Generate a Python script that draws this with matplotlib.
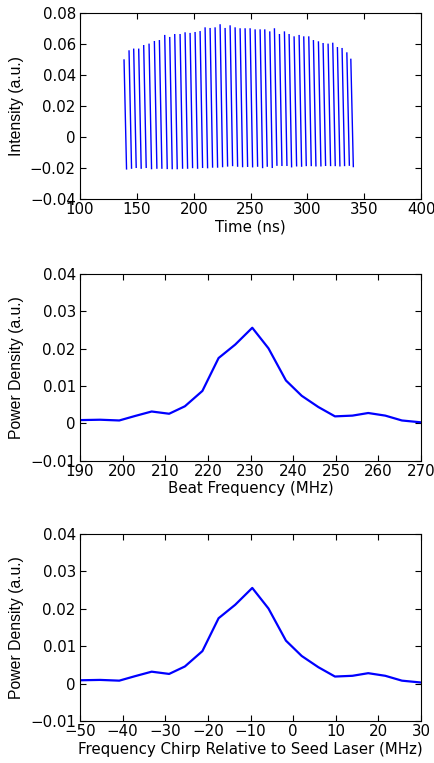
import numpy as np
import matplotlib
matplotlib.use("Agg")
import matplotlib.pyplot as plt
from matplotlib.ticker import FuncFormatter

plt.rcParams['font.family'] = ['DejaVu Sans']
plt.rcParams['font.size'] = 10.8

# Intensity trace: one stroke per beat cycle (peak value, trough value)
peak_t = [138.7, 143.1, 147.2, 151.6, 156.0, 160.7, 165.4, 169.8, 174.5, 178.9,
          183.3, 188.0, 192.4, 196.8, 201.2, 205.6, 210.0, 214.4, 218.8, 223.2,
          227.6, 232.0, 236.4, 240.8, 245.2, 249.6, 254.0, 258.4, 262.5, 266.9,
          271.0, 275.4, 279.8, 283.9, 288.3, 292.7, 296.8, 301.2, 305.3, 309.7,
          313.8, 318.2, 322.3, 326.4, 330.5, 334.7, 338.2]
peak_v = [0.0497, 0.0555, 0.0566, 0.0566, 0.0589, 0.0598, 0.0615, 0.0621, 0.0654, 0.0641,
          0.0660, 0.0660, 0.0671, 0.0667, 0.0673, 0.0679, 0.0703, 0.0699, 0.0703, 0.0723,
          0.0699, 0.0716, 0.0703, 0.0697, 0.0697, 0.0697, 0.0690, 0.0690, 0.0690, 0.0677,
          0.0697, 0.0660, 0.0677, 0.0660, 0.0645, 0.0654, 0.0645, 0.0645, 0.0621, 0.0613,
          0.0602, 0.0598, 0.0604, 0.0576, 0.0570, 0.0542, 0.0501]
trough_v = [-0.0205, -0.0200, -0.0195, -0.0200, -0.0195, -0.0203, -0.0200, -0.0200, -0.0202, -0.0203,
            -0.0203, -0.0200, -0.0200, -0.0196, -0.0200, -0.0195, -0.0197, -0.0193, -0.0193, -0.0190,
            -0.0186, -0.0183, -0.0187, -0.0190, -0.0188, -0.0191, -0.0187, -0.0196, -0.0187, -0.0195,
            -0.0181, -0.0182, -0.0182, -0.0191, -0.0185, -0.0187, -0.0183, -0.0183, -0.0185, -0.0185,
            -0.0182, -0.0183, -0.0183, -0.0185, -0.0183, -0.0181, -0.0190]

# Power spectrum
beat_freq = [190.0, 194.7, 199.2, 202.9, 206.8, 210.9, 214.6, 218.7, 222.5, 226.4, 230.4,
             234.2, 238.3, 242.0, 245.9, 249.8, 253.9, 257.6, 261.6, 265.5, 270.0]
power = [0.0009, 0.0010, 0.0008, 0.0020, 0.0032, 0.0026, 0.0046, 0.0087, 0.0175, 0.0211, 0.0256,
         0.0201, 0.0115, 0.0074, 0.0044, 0.0019, 0.0021, 0.0028, 0.0021, 0.0008, 0.0003]
seed_offset = 240.0
chirp = [f - seed_offset for f in beat_freq]

def fmt(v, pos):
    s = '%g' % round(v, 6)
    return s.replace('-', '\u2212')

fig = plt.figure(figsize=(4.35, 7.63), dpi=100)
ax1 = fig.add_axes([0.184, 0.739, 0.784, 0.244])
ax2 = fig.add_axes([0.184, 0.396, 0.784, 0.245])
ax3 = fig.add_axes([0.184, 0.055, 0.784, 0.245])

# strokes from peak down to trough, separated by gaps
xs, ys = [], []
for t, p, q in zip(peak_t, peak_v, trough_v):
    xs += [t, t + 2.2, np.nan]
    ys += [p, q, np.nan]
ax1.plot(xs, ys, color='#0000ff', lw=1.0)
ax1.set_xlim(100, 400)
ax1.set_ylim(-0.04, 0.08)
ax1.set_xticks(np.arange(100, 401, 50))
ax1.set_yticks(np.arange(-0.04, 0.081, 0.02))
ax1.set_xlabel('Time (ns)', labelpad=2)
ax1.set_ylabel('Intensity (a.u.)', labelpad=4, family='Liberation Sans', fontsize=11.3)

ax2.plot(beat_freq, power, color='#0000ff', lw=1.6)
ax2.set_xlim(190, 270)
ax2.set_ylim(-0.01, 0.04)
ax2.set_xticks(np.arange(190, 271, 10))
ax2.set_yticks(np.arange(-0.01, 0.041, 0.01))
ax2.set_xlabel('Beat Frequency (MHz)', labelpad=2)
ax2.set_ylabel('Power Density (a.u.)', labelpad=4, family='Liberation Sans', fontsize=11.3)

ax3.plot(chirp, power, color='#0000ff', lw=1.6)
ax3.set_xlim(-50, 30)
ax3.set_ylim(-0.01, 0.04)
ax3.set_xticks(np.arange(-50, 31, 10))
ax3.set_yticks(np.arange(-0.01, 0.041, 0.01))
ax3.set_xlabel('Frequency Chirp Relative to Seed Laser (MHz)', labelpad=2)
ax3.set_ylabel('Power Density (a.u.)', labelpad=4, family='Liberation Sans', fontsize=11.3)

for ax in (ax1, ax2, ax3):
    ax.xaxis.set_major_formatter(FuncFormatter(fmt))
    ax.yaxis.set_major_formatter(FuncFormatter(fmt))
    ax.tick_params(direction='in', top=True, right=True, length=4, width=0.8)
    ax.tick_params(axis='x', pad=2)
    ax.tick_params(axis='y', pad=3)
    for sp in ax.spines.values():
        sp.set_linewidth(0.8)

fig.savefig('out.png', dpi=100)
